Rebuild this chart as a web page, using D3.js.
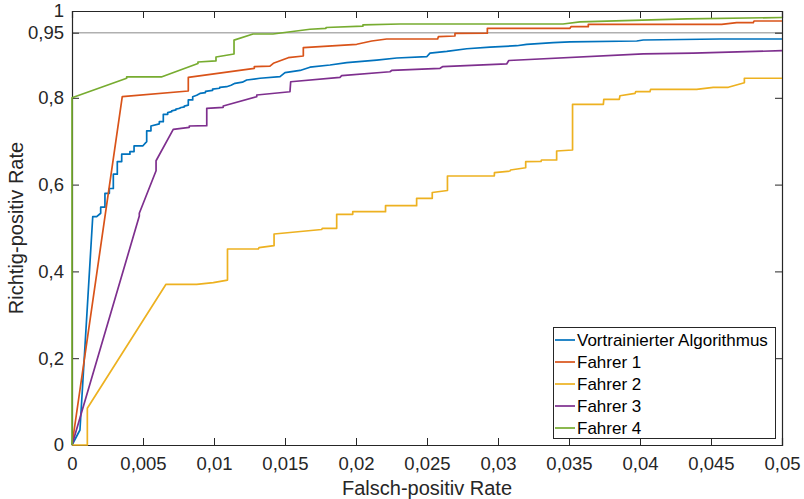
<!DOCTYPE html>
<html><head><meta charset="utf-8">
<script src="https://cdn.jsdelivr.net/npm/d3@7"></script>
<style>body{margin:0;background:#fff}svg{display:block}text{font-family:"Liberation Sans",Arial,Helvetica,sans-serif}</style>
</head><body><svg id="c" width="804" height="499"></svg>
<script>
const seriesNames = ["Vortrainierter Algorithmus","Fahrer 1","Fahrer 2","Fahrer 3","Fahrer 4"];
const seriesColors = ["#0072BD","#D95319","#EDB120","#7E2F8E","#77AC30"];
const xTicks = [0,0.005,0.01,0.015,0.02,0.025,0.03,0.035,0.04,0.045,0.05];
const yTicks = [0,0.2,0.4,0.6,0.8,0.95,1];
const thresholdTPR = 0.95;

const algo = [[0,0],[0.00056,0.0346],[0.00146,0.526],[0.00174,0.526],[0.00202,0.534],[0.00202,0.548],[0.00232,0.548],[0.00232,0.580],[0.00263,0.580],[0.00263,0.591],[0.00291,0.591],[0.00291,0.624],[0.00319,0.624],[0.00319,0.653],[0.0035,0.653],[0.0035,0.670],[0.00408,0.670],[0.00408,0.676],[0.00437,0.676],[0.00437,0.689],[0.00498,0.689],[0.00526,0.699],[0.00526,0.724],[0.00556,0.724],[0.00556,0.735],[0.00615,0.740],[0.00615,0.745],[0.00643,0.745],[0.00643,0.762],[0.00674,0.762],[0.00674,0.766],[0.00702,0.768],[0.00702,0.770],[0.00732,0.772],[0.00732,0.774],[0.00761,0.776],[0.00761,0.777],[0.00791,0.779],[0.00791,0.781],[0.00819,0.783],[0.00819,0.795],[0.0085,0.795],[0.0085,0.8025],[0.00878,0.806],[0.00901,0.810],[0.00940,0.812],[0.00940,0.815],[0.00990,0.817],[0.00990,0.820],[0.01040,0.822],[0.01040,0.824],[0.01089,0.8256],[0.01120,0.829],[0.01148,0.8334],[0.0120,0.836],[0.0123,0.841],[0.01324,0.845],[0.01465,0.8486],[0.01500,0.8579],[0.01606,0.863],[0.01676,0.8705],[0.01817,0.8756],[0.01935,0.881],[0.02146,0.887],[0.02287,0.8917],[0.02498,0.8947],[0.02521,0.903],[0.02639,0.907],[0.0278,0.913],[0.02944,0.9166],[0.03132,0.920],[0.03202,0.9233],[0.03389,0.927],[0.03507,0.929],[0.03977,0.9309],[0.04023,0.9332],[0.04563,0.9355],[0.05,0.9355]];
const fahrer1 = [[0,0],[0.00354,0.8025],[0.00819,0.8157],[0.00819,0.847],[0.01284,0.868],[0.01284,0.872],[0.01394,0.873],[0.01418,0.8795],[0.01523,0.8924],[0.01629,0.8963],[0.01629,0.9154],[0.02005,0.9233],[0.02111,0.9309],[0.02216,0.9355],[0.02575,0.9355],[0.0258,0.9408],[0.02697,0.9424],[0.02697,0.9486],[0.02925,0.949],[0.02925,0.9601],[0.03507,0.9601],[0.03514,0.9638],[0.03636,0.9638],[0.03636,0.9693],[0.04575,0.9693],[0.04681,0.9731],[0.04798,0.9731],[0.04803,0.977],[0.05,0.977]];
const fahrer2 = [[0,0],[0.00108,0],[0.00108,0.0846],[0.00662,0.3703],[0.00878,0.3703],[0.00995,0.374],[0.01095,0.380],[0.01095,0.4516],[0.01312,0.4516],[0.01317,0.4546],[0.01423,0.4592],[0.01423,0.4862],[0.01758,0.4965],[0.01764,0.4993],[0.01864,0.4993],[0.01864,0.5316],[0.01977,0.5316],[0.01977,0.5376],[0.02208,0.5376],[0.02208,0.5514],[0.02427,0.5514],[0.02427,0.5684],[0.02537,0.5684],[0.02537,0.5818],[0.02644,0.5864],[0.02644,0.6198],[0.02974,0.6198],[0.02975,0.6274],[0.03085,0.6313],[0.03088,0.6336],[0.03195,0.6389],[0.03195,0.6528],[0.03303,0.6532],[0.03306,0.6567],[0.03413,0.6567],[0.03413,0.6774],[0.03525,0.6797],[0.03525,0.785],[0.03742,0.785],[0.03745,0.7965],[0.03854,0.7965],[0.03859,0.8048],[0.03965,0.8104],[0.0397,0.814],[0.0407,0.814],[0.04075,0.8196],[0.04399,0.8196],[0.04516,0.8242],[0.04622,0.8242],[0.04735,0.8348],[0.04735,0.845],[0.05,0.845]];
const fahrer3 = [[0,0],[0.00474,0.5276],[0.00474,0.534],[0.00592,0.632],[0.00592,0.655],[0.00713,0.7274],[0.00826,0.732],[0.00826,0.735],[0.00949,0.7357],[0.00949,0.7758],[0.01065,0.778],[0.01065,0.781],[0.01301,0.8025],[0.01301,0.8065],[0.01535,0.814],[0.0154,0.837],[0.01887,0.847],[0.01899,0.851],[0.02239,0.860],[0.02251,0.863],[0.02592,0.868],[0.02609,0.8717],[0.03061,0.878],[0.03076,0.886],[0.04023,0.901],[0.04375,0.903],[0.05,0.9085]];
const fahrer4 = [[0,0],[0,0.80],[0.00385,0.845],[0.00385,0.848],[0.00629,0.848],[0.00887,0.879],[0.00887,0.8825],[0.01014,0.885],[0.01014,0.894],[0.01141,0.901],[0.01141,0.933],[0.01275,0.947],[0.01415,0.947],[0.01676,0.958],[0.01789,0.960],[0.01789,0.962],[0.02049,0.965],[0.02049,0.968],[0.0231,0.970],[0.03458,0.970],[0.03577,0.975],[0.04331,0.982],[0.05,0.985]];
const seriesData = [algo, fahrer1, fahrer2, fahrer3, fahrer4];

const svg = d3.select("#c");
const L = 72, R = 782, T = 11, B = 445;
const x = d3.scaleLinear().domain([0,0.05]).range([L,R]);
const y = d3.scaleLinear().domain([0,1]).range([B,T]);
const fmt = v => (v===0?"0":String(+v.toFixed(4))).replace(".",",");
const axisColor = "#262626";

// threshold line
svg.append("line").attr("x1",x(0)).attr("x2",x(0.05)).attr("y1",y(thresholdTPR)).attr("y2",y(thresholdTPR))
  .attr("stroke","#b0b0b0").attr("stroke-width",1.5);

// axes
const gx = svg.append("g").attr("transform",`translate(0,${B})`)
  .call(d3.axisBottom(x).tickValues(xTicks).tickSize(-7).tickPadding(12).tickFormat(fmt));
const gxt = svg.append("g").attr("transform",`translate(0,${T})`)
  .call(d3.axisTop(x).tickValues(xTicks).tickSize(-7).tickFormat(""));
const gy = svg.append("g").attr("transform",`translate(${L},0)`)
  .call(d3.axisLeft(y).tickValues(yTicks).tickSize(-7).tickPadding(8).tickFormat(fmt));
const gyr = svg.append("g").attr("transform",`translate(${R},0)`)
  .call(d3.axisRight(y).tickValues(yTicks).tickSize(-7).tickFormat(""));
[gx,gxt,gy,gyr].forEach(g=>{
  g.selectAll("path").attr("stroke",axisColor).attr("stroke-width",1.2);
  g.selectAll("line").attr("stroke",axisColor).attr("stroke-width",1);
  g.selectAll("text").attr("fill",axisColor).style("font-size","18.5px").style("font-family",'"Liberation Sans",Arial,sans-serif');
});
gx.selectAll("text").attr("dy","0.71em");

// lines
const line = d3.line().x(d=>x(d[0])).y(d=>y(d[1]));
seriesData.forEach((s,i)=>{
  svg.append("path").datum(s).attr("d",line).attr("fill","none")
    .attr("stroke",seriesColors[i]).attr("stroke-width",1.7).attr("stroke-linejoin","round");
});

// axis labels
svg.append("text").attr("x",(L+R)/2).attr("y",495).attr("text-anchor","middle")
  .attr("fill",axisColor).style("font-size","20px").text("Falsch-positiv Rate");
svg.append("text").attr("transform",`translate(23,${(T+B)/2}) rotate(-90)`).attr("text-anchor","middle")
  .attr("fill",axisColor).style("font-size","20px").text("Richtig-positiv Rate");

// legend
const lg = svg.append("g");
lg.append("rect").attr("x",553.5).attr("y",327.5).attr("width",222).attr("height",111)
  .attr("fill","#fff").attr("stroke",axisColor).attr("stroke-width",1);
seriesNames.forEach((n,i)=>{
  const cy = 340 + i*22;
  lg.append("line").attr("x1",555).attr("x2",575).attr("y1",cy).attr("y2",cy)
    .attr("stroke",seriesColors[i]).attr("stroke-width",1.7);
  lg.append("text").attr("x",577).attr("y",cy).attr("dy","0.35em").attr("fill","#000")
    .style("font-size","17px").text(n);
});
</script></body></html>
